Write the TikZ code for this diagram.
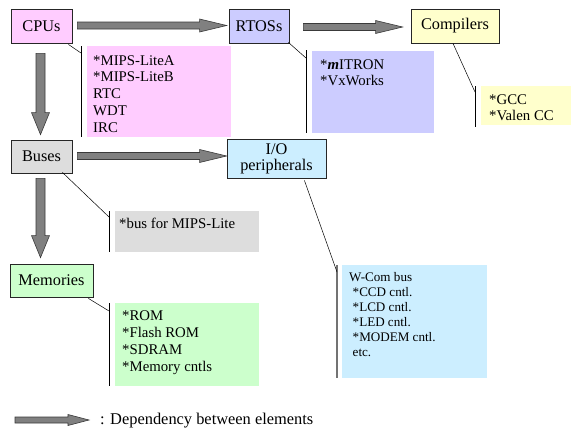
\documentclass[tikz,border=0pt]{standalone}
\usepackage{fontspec}
\setmainfont{LiberationSerif}[Extension=.ttf, UprightFont=*-Regular,
  BoldFont=*-Bold, ItalicFont=*-Italic, BoldItalicFont=*-BoldItalic]
\usetikzlibrary{calc,shadows}

\definecolor{cpuc}{HTML}{FFCCFF}
\definecolor{rtosc}{HTML}{CCCCFF}
\definecolor{compc}{HTML}{FFFFCC}
\definecolor{busc}{HTML}{DDDDDD}
\definecolor{ioc}{HTML}{CCEEFF}
\definecolor{memc}{HTML}{CCFFCC}
\definecolor{arrfill}{HTML}{808080}
\definecolor{arrline}{HTML}{3A3A3A}

\tikzset{
  elem/.style={draw=black!85, line width=0.8pt, inner sep=0pt, align=center,
    font=\rmfamily\fontsize{16.3}{17}\selectfont,
    drop shadow={shadow xshift=1pt, shadow yshift=-1pt, fill=black!55, opacity=1}},
  info/.style={anchor=north west, inner sep=0pt, align=left,
    font=\rmfamily\fontsize{14.8}{16.8}\selectfont},
  bar/.style={draw=black, line width=0.9pt},
  leader/.style={draw=black, line width=0.5pt},
  dep/.style={fill=arrfill, draw=arrline, line width=0.6pt, line join=miter}
}

% horizontal block arrow: start, tip, half shaft, half head, head length
\newcommand\deph[5]{\draw[dep] let \p1=(#1), \p2=(#2) in
  (\x1,\y1+#3) -- (\x2-#5,\y1+#3) -- (\x2-#5,\y1+#4) -- (\x2,\y1)
  -- (\x2-#5,\y1-#4) -- (\x2-#5,\y1-#3) -- (\x1,\y1-#3) -- cycle;}
% downward block arrow: start, tip, half shaft, half head, head length
\newcommand\depv[5]{\draw[dep] let \p1=(#1), \p2=(#2) in
  (\x1-#3,\y1) -- (\x1-#3,\y2+#5) -- (\x1-#4,\y2+#5) -- (\x1,\y2)
  -- (\x1+#4,\y2+#5) -- (\x1+#3,\y2+#5) -- (\x1+#3,\y1) -- cycle;}

\begin{document}
\begin{tikzpicture}[x=1pt,y=-1pt]
\useasboundingbox[fill=white] (0,0) rectangle (571,429);

% ---- detail panels ----
\fill[cpuc]  (87,46)   rectangle (231,137);
\fill[rtosc] (312,51)  rectangle (434,133);
\fill[compc] (481,86)  rectangle (571,125);
\fill[busc]  (115,211) rectangle (259,252);
\fill[memc]  (115,303) rectangle (259,386);
\fill[ioc]   (342,265) rectangle (487,378);

\node[info] (cpuinfo) at (93,55) {*MIPS-LiteA\\*MIPS-LiteB\\RTC\\WDT\\IRC};
\node[info, font=\rmfamily\fontsize{14.8}{16}\selectfont] (rtosinfo) at (320,59)
  {*\textbf{\textit{m}}ITRON\\*VxWorks};
\node[info, font=\rmfamily\fontsize{14.8}{16}\selectfont] (compinfo) at (489,94)
  {*GCC\\*Valen CC};
\node[info] (businfo) at (119,218) {*bus for MIPS-Lite};
\node[info, font=\rmfamily\fontsize{14.8}{17.2}\selectfont] (meminfo) at (122,310)
  {*ROM\\*Flash ROM\\*SDRAM\\*Memory cntls};
\node[info, font=\rmfamily\fontsize{13.1}{15}\selectfont] (ioinfo) at (349,272)
  {W-Com bus\\\hspace*{3.5pt}*CCD cntl.\\\hspace*{3.5pt}*LCD cntl.\\
   \hspace*{3.5pt}*LED cntl.\\\hspace*{3.5pt}*MODEM cntl.\\\hspace*{3.5pt}etc.};

% ---- brackets on the panels ----
\coordinate (cpub1) at (81,46);   \coordinate (cpub2) at (81,137);
\coordinate (rtosb1) at (306,50); \coordinate (rtosb2) at (306,133);
\coordinate (compb1) at (475,86); \coordinate (compb2) at (475,127);
\coordinate (busb1) at (109,211); \coordinate (busb2) at (109,252);
\coordinate (memb1) at (109,303); \coordinate (memb2) at (109,386);
\coordinate (iob1) at (337,265);  \coordinate (iob2) at (337,378);
\draw[bar] (cpub1) -- (cpub2);
\draw[bar] (rtosb1) -- (rtosb2);
\draw[bar] (compb1) -- (compb2);
\draw[bar] (busb1) -- (busb2);
\draw[bar] (memb1) -- (memb2);
\draw[bar, draw=black!55, line width=1.4pt] (iob1) -- (iob2);

% ---- elements ----
\node[elem, fill=cpuc,  minimum width=61pt, minimum height=34pt] (cpu)  at (41.5,26)  {CPUs};
\node[elem, fill=rtosc, minimum width=60pt, minimum height=34pt] (rtos) at (259,26)   {RTOSs};
\node[elem, fill=compc, minimum width=88pt, minimum height=34pt] (comp) at (455,26)   {Compilers};
\node[elem, fill=busc,  minimum width=61pt, minimum height=33pt] (bus)  at (41.5,156.5) {Buses};
\node[elem, fill=ioc,   minimum width=99pt, minimum height=39pt] (io)   at (276.5,158.5) {I/O\\[-1pt]peripherals};
\node[elem, fill=memc,  minimum width=83pt, minimum height=33pt] (mem)  at (51.5,280.5) {Memories};

% ---- leaders from elements to their panels ----
\draw[leader] ($(cpu.south east)+(-4,1)$)  -- ($(cpub1)+(0,7)$);
\draw[leader] ($(rtos.south east)+(-1,-1)$) -- ($(rtosb1)+(0,8)$);
\draw[leader] ($(comp.south)+(-2,0)$)      -- ($(compb1)+(0,6)$);
\draw[leader] ($(bus.south east)+(-10,-1)$) -- ($(busb1)+(0,6)$);
\draw[leader] ($(mem.south east)+(-5,1)$)  -- ($(memb1)+(0,8)$);
\draw[leader] ($(io.south east)+(-22,2)$)  -- ($(iob1)+(0,7)$);

% ---- dependencies ----
\deph{$(cpu.east)+(5,-0.5)$}{$(rtos.west)+(-2,0)$}{3.5pt}{6.5pt}{27pt}
\deph{$(rtos.east)+(14,1)$}{$(comp.west)+(-8,1)$}{3.5pt}{6.5pt}{27pt}
\deph{$(bus.east)+(5,-0.5)$}{$(io.west)+(0,0)$}{3.5pt}{6.5pt}{27pt}
\depv{$(cpu.south)+(-1,10)$}{$(bus.north)+(-1,-5)$}{4.5pt}{9pt}{22pt}
\depv{$(bus.south)+(-1,5)$}{$(mem.north)+(0,-6)$}{4.5pt}{9pt}{22pt}

% ---- legend ----
\coordinate (leg1) at (15,420);
\coordinate (leg2) at (89,420);
\deph{leg1}{leg2}{3pt}{5.5pt}{21pt}
\node[anchor=west, inner sep=0pt, font=\rmfamily\fontsize{16.4}{17}\selectfont] (legtext) at (100,421)
  {: Dependency between elements};
\end{tikzpicture}
\end{document}
